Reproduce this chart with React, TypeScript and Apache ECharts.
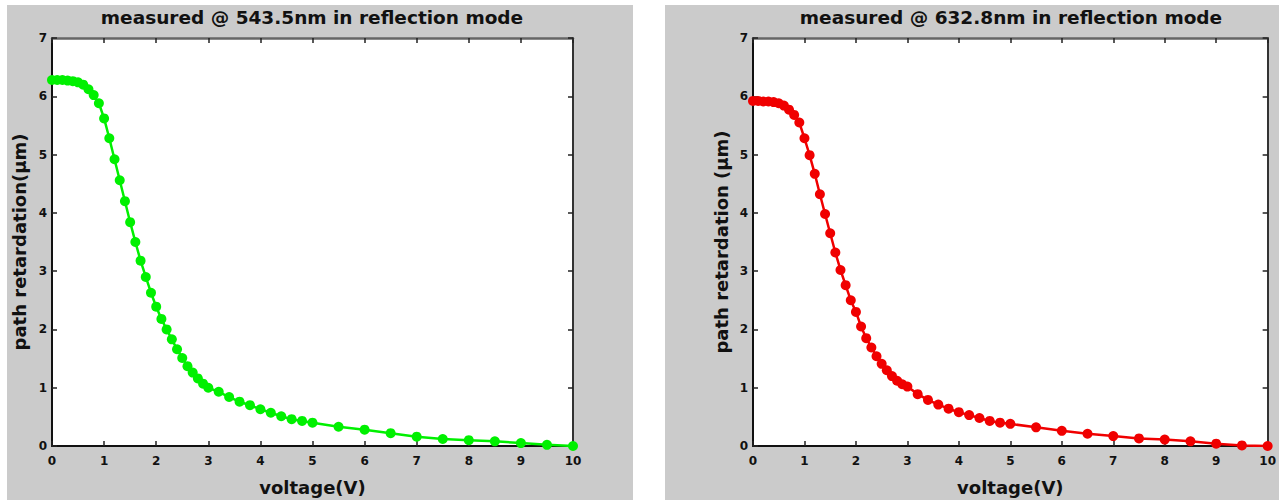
import React, { useEffect, useRef } from "react";
import * as echarts from "echarts";

const volts = [
  0, 0.1, 0.2, 0.3, 0.4, 0.5, 0.6, 0.7, 0.8, 0.9,
  1.0, 1.1, 1.2, 1.3, 1.4, 1.5, 1.6, 1.7, 1.8, 1.9,
  2.0, 2.1, 2.2, 2.3, 2.4, 2.5, 2.6, 2.7, 2.8, 2.9,
  3.0, 3.2, 3.4, 3.6, 3.8, 4.0, 4.2, 4.4, 4.6, 4.8,
  5.0, 5.5, 6.0, 6.5, 7.0, 7.5, 8.0, 8.5, 9.0, 9.5, 10,
];

const retardGreen = [
  6.28, 6.28, 6.28, 6.27, 6.26, 6.24, 6.2, 6.12, 6.02, 5.88,
  5.62, 5.28, 4.92, 4.56, 4.2, 3.84, 3.5, 3.18, 2.9, 2.63,
  2.39, 2.18, 2.0, 1.83, 1.66, 1.51, 1.37, 1.26, 1.16, 1.07,
  1.0, 0.93, 0.84, 0.76, 0.7, 0.63, 0.57, 0.51, 0.46, 0.43,
  0.4, 0.33, 0.28, 0.22, 0.16, 0.12, 0.1, 0.08, 0.05, 0.02, 0.0,
];

const retardRed = [
  5.92, 5.92, 5.91, 5.91, 5.9, 5.88, 5.84, 5.77, 5.68, 5.55,
  5.28, 4.99, 4.67, 4.32, 3.98, 3.65, 3.32, 3.02, 2.76, 2.5,
  2.3, 2.05, 1.85, 1.69, 1.54, 1.41, 1.3, 1.2, 1.12, 1.06,
  1.02, 0.89, 0.79, 0.71, 0.64, 0.58, 0.53, 0.48, 0.43, 0.4,
  0.38, 0.32, 0.26, 0.21, 0.17, 0.13, 0.11, 0.08, 0.04, 0.01, 0.0,
];

const titles = [
  "measured @ 543.5nm in reflection mode",
  "measured @ 632.8nm in reflection mode",
];
const yNames = ["path retardation(\u03bcm)", "path retardation (\u03bcm)"];
const xName = "voltage(V)";

const FONT = "Liberation Sans, Arial, sans-serif";
const WIDE = "DejaVu Sans, Liberation Sans, sans-serif";

export default function App() {
  const ref = useRef<HTMLDivElement>(null);
  useEffect(() => {
    document.body.style.margin = "0";
    const chart = echarts.init(ref.current!, null, { renderer: "svg" });

    const grids = [
      { left: 52, top: 38, width: 521, height: 408 },
      { left: 753, top: 38, width: 517, height: 408 },
    ];

    const axisLine = (color: string, width: number) => ({
      show: true,
      onZero: false,
      lineStyle: { color, width },
    });
    const tick = { show: true, inside: true, length: 5, lineStyle: { color: "#222", width: 1.5 } };
    const label = { color: "#111", fontSize: 12, fontWeight: "bold", fontFamily: WIDE };

    const xAxis: any[] = [];
    const yAxis: any[] = [];
    [0, 1].forEach((g) => {
      xAxis.push({
        type: "value", gridIndex: g, min: 0, max: 10, interval: 1, position: "bottom",
        axisLine: axisLine("#111", 2), axisTick: tick,
        axisLabel: { ...label, margin: 9 },
        splitLine: { show: false },
        name: xName, nameLocation: "middle", nameGap: 32,
        nameTextStyle: { color: "#111", fontSize: 18, fontWeight: "bold", fontFamily: WIDE },
      });
      xAxis.push({
        type: "value", gridIndex: g, min: 0, max: 10, interval: 1, position: "top",
        axisLine: axisLine("#666", 2.5), axisTick: tick,
        axisLabel: { show: false }, splitLine: { show: false },
      });
      yAxis.push({
        type: "value", gridIndex: g, min: 0, max: 7, interval: 1, position: "left",
        axisLine: axisLine("#111", 2), axisTick: tick,
        axisLabel: { ...label, margin: 5 },
        splitLine: { show: false },
        name: yNames[g], nameLocation: "middle", nameGap: g === 0 ? 24 : 23,
        nameTextStyle: { color: "#111", fontSize: 18, fontWeight: "bold", fontFamily: WIDE },
      });
      yAxis.push({
        type: "value", gridIndex: g, min: 0, max: 7, interval: 1, position: "right",
        axisLine: axisLine("#333", 2), axisTick: tick,
        axisLabel: { show: false }, splitLine: { show: false },
      });
    });

    const mk = (vals: number[], color: string, g: number) => ({
      type: "line",
      xAxisIndex: g * 2,
      yAxisIndex: g * 2,
      data: volts.map((v, i) => [v, vals[i]]),
      symbol: "circle",
      symbolSize: 10,
      itemStyle: { color },
      lineStyle: { color, width: 2.5 },
      z: 5,
    });

    chart.setOption({
      animation: false,
      backgroundColor: "#ffffff",
      textStyle: { fontFamily: FONT },
      grid: grids.map((g) => ({ ...g, show: true, backgroundColor: "#ffffff", borderWidth: 0, containLabel: false })),
      xAxis,
      yAxis,
      graphic: [
        { type: "rect", z: -10, shape: { x: 7, y: 5, width: 626, height: 495 }, style: { fill: "#cbcbcb" } },
        { type: "rect", z: -10, shape: { x: 665, y: 5, width: 614, height: 495 }, style: { fill: "#cbcbcb" } },
        {
          type: "text", x: 312, y: 17, z: 10,
          style: { text: titles[0], textAlign: "center", textVerticalAlign: "middle", fill: "#111", font: `bold 18.5px ${WIDE}` },
        },
        {
          type: "text", x: 1011, y: 17, z: 10,
          style: { text: titles[1], textAlign: "center", textVerticalAlign: "middle", fill: "#111", font: `bold 18.5px ${WIDE}` },
        },
      ],
      series: [mk(retardGreen, "#00f000", 0), mk(retardRed, "#f00000", 1)],
    });
    return () => chart.dispose();
  }, []);
  return <div ref={ref} style={{ width: 1279, height: 502 }} />;
}
